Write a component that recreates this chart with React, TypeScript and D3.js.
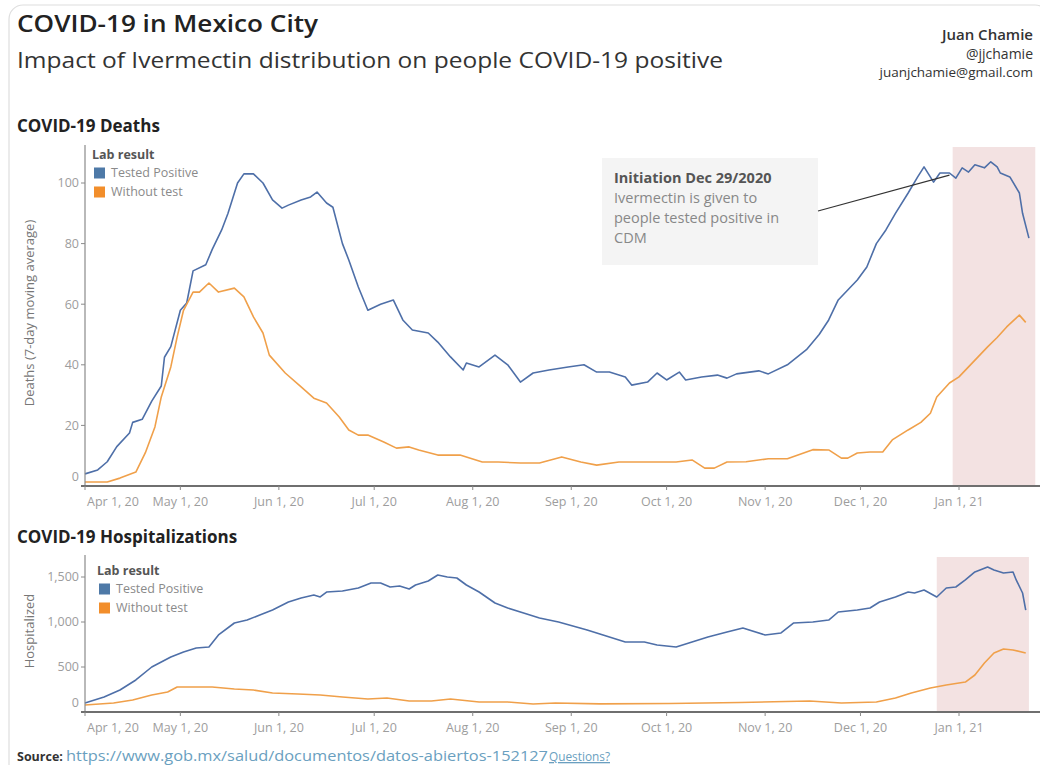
import React from "react";
import * as d3 from "d3";

// ---------- DATA ----------
const deathsPositive: [string, number][] = [
  ["2020-04-01", 4], ["2020-04-05", 5.3], ["2020-04-08", 8], ["2020-04-11", 13], ["2020-04-15", 17.5],
  ["2020-04-16", 21], ["2020-04-19", 22], ["2020-04-22", 28], ["2020-04-25", 33], ["2020-04-26", 42.5],
  ["2020-04-28", 46], ["2020-05-01", 58], ["2020-05-03", 60.4], ["2020-05-05", 71], ["2020-05-09", 73],
  ["2020-05-11", 78], ["2020-05-14", 84.5], ["2020-05-16", 90], ["2020-05-19", 100], ["2020-05-21", 103],
  ["2020-05-24", 103], ["2020-05-27", 100], ["2020-05-30", 94.4], ["2020-06-02", 91.7], ["2020-06-04", 92.7],
  ["2020-06-08", 94.4], ["2020-06-11", 95.4], ["2020-06-13", 97], ["2020-06-16", 93.4], ["2020-06-18", 92],
  ["2020-06-21", 80], ["2020-06-23", 74.6], ["2020-06-26", 65.7], ["2020-06-29", 58], ["2020-07-03", 60],
  ["2020-07-07", 61.4], ["2020-07-10", 54.8], ["2020-07-13", 51.5], ["2020-07-18", 50.5], ["2020-07-21", 47.5],
  ["2020-07-25", 42.6], ["2020-07-29", 38.3], ["2020-07-30", 40.6], ["2020-08-03", 39.3], ["2020-08-08", 43.2],
  ["2020-08-12", 40], ["2020-08-16", 34.3], ["2020-08-20", 37.3], ["2020-08-25", 38.3], ["2020-08-31", 39.3],
  ["2020-09-05", 40], ["2020-09-09", 37.6], ["2020-09-13", 37.6], ["2020-09-18", 36], ["2020-09-20", 33.3],
  ["2020-09-25", 34.3], ["2020-09-28", 37.3], ["2020-10-01", 35], ["2020-10-05", 37.6], ["2020-10-07", 35],
  ["2020-10-12", 36], ["2020-10-17", 36.6], ["2020-10-20", 35.6], ["2020-10-23", 37], ["2020-10-30", 38],
  ["2020-11-02", 37], ["2020-11-08", 40], ["2020-11-14", 45], ["2020-11-18", 50], ["2020-11-21", 54.8],
  ["2020-11-24", 61.4], ["2020-11-27", 64.7], ["2020-11-30", 68], ["2020-12-03", 72.3], ["2020-12-06", 80],
  ["2020-12-09", 84.5], ["2020-12-12", 90], ["2020-12-16", 96.7], ["2020-12-19", 102], ["2020-12-21", 105.3],
  ["2020-12-24", 100.3], ["2020-12-26", 103.3], ["2020-12-29", 103.3], ["2020-12-31", 101.6], ["2021-01-02", 105],
  ["2021-01-04", 103.6], ["2021-01-06", 106], ["2021-01-09", 105], ["2021-01-11", 107], ["2021-01-13", 105.3],
  ["2021-01-14", 103.3], ["2021-01-17", 102], ["2021-01-20", 96.7], ["2021-01-21", 90], ["2021-01-23", 81.8],
];

const deathsWithoutTest: [string, number][] = [
  ["2020-04-01", 1.3], ["2020-04-08", 1.3], ["2020-04-12", 2.6], ["2020-04-17", 4.6], ["2020-04-20", 11],
  ["2020-04-23", 19.5], ["2020-04-25", 29.4], ["2020-04-28", 39.3], ["2020-04-30", 49.2], ["2020-05-02", 58],
  ["2020-05-05", 64], ["2020-05-07", 64], ["2020-05-10", 67], ["2020-05-13", 64], ["2020-05-18", 65.3],
  ["2020-05-21", 62.4], ["2020-05-24", 55.8], ["2020-05-27", 50.5], ["2020-05-29", 43.2], ["2020-06-03", 37.3],
  ["2020-06-08", 32.7], ["2020-06-12", 29], ["2020-06-16", 27.4], ["2020-06-20", 22.8], ["2020-06-23", 18.5],
  ["2020-06-26", 16.8], ["2020-06-29", 16.8], ["2020-07-04", 14.5], ["2020-07-08", 12.5], ["2020-07-12", 12.9],
  ["2020-07-15", 11.9], ["2020-07-21", 10.2], ["2020-07-28", 10.2], ["2020-08-04", 7.9], ["2020-08-09", 7.9],
  ["2020-08-16", 7.6], ["2020-08-22", 7.6], ["2020-08-29", 9.6], ["2020-09-04", 7.9], ["2020-09-09", 6.9],
  ["2020-09-16", 7.9], ["2020-09-22", 7.9], ["2020-09-28", 7.9], ["2020-10-04", 7.9], ["2020-10-09", 8.6],
  ["2020-10-13", 5.9], ["2020-10-16", 5.9], ["2020-10-20", 7.9], ["2020-10-26", 8], ["2020-11-02", 9],
  ["2020-11-08", 9], ["2020-11-16", 12], ["2020-11-21", 11.9], ["2020-11-25", 9.2], ["2020-11-27", 9.2],
  ["2020-11-30", 10.9], ["2020-12-04", 11.2], ["2020-12-08", 11.2], ["2020-12-11", 15.2], ["2020-12-16", 18.5],
  ["2020-12-20", 21], ["2020-12-23", 24], ["2020-12-25", 29.4], ["2020-12-29", 34], ["2021-01-01", 36],
  ["2021-01-04", 39.3], ["2021-01-07", 42.6], ["2021-01-10", 45.9], ["2021-01-13", 49], ["2021-01-16", 52.5],
  ["2021-01-20", 56.4], ["2021-01-22", 54],
];

const hospPositive: [string, number][] = [
  ["2020-04-01", 100], ["2020-04-07", 167], ["2020-04-12", 244], ["2020-04-17", 356], ["2020-04-22", 500],
  ["2020-04-28", 611], ["2020-05-02", 667], ["2020-05-06", 711], ["2020-05-10", 722], ["2020-05-13", 856],
  ["2020-05-18", 989], ["2020-05-22", 1022], ["2020-05-26", 1078], ["2020-05-30", 1133], ["2020-06-04", 1222],
  ["2020-06-08", 1267], ["2020-06-12", 1300], ["2020-06-14", 1278], ["2020-06-16", 1333], ["2020-06-21", 1344],
  ["2020-06-26", 1378], ["2020-06-30", 1433], ["2020-07-03", 1433], ["2020-07-06", 1389], ["2020-07-09", 1400],
  ["2020-07-12", 1367], ["2020-07-14", 1411], ["2020-07-18", 1456], ["2020-07-21", 1522], ["2020-07-24", 1500],
  ["2020-07-27", 1489], ["2020-07-30", 1411], ["2020-08-03", 1333], ["2020-08-08", 1211], ["2020-08-12", 1156],
  ["2020-08-17", 1100], ["2020-08-22", 1044], ["2020-08-28", 1000], ["2020-09-06", 911], ["2020-09-13", 833],
  ["2020-09-18", 778], ["2020-09-24", 778], ["2020-09-28", 744], ["2020-10-04", 722], ["2020-10-09", 778],
  ["2020-10-14", 833], ["2020-10-20", 889], ["2020-10-25", 933], ["2020-11-01", 856], ["2020-11-06", 878],
  ["2020-11-10", 989], ["2020-11-16", 1000], ["2020-11-21", 1022], ["2020-11-24", 1111], ["2020-11-30", 1133],
  ["2020-12-04", 1156], ["2020-12-07", 1222], ["2020-12-12", 1278], ["2020-12-16", 1333], ["2020-12-18", 1322],
  ["2020-12-21", 1356], ["2020-12-25", 1278], ["2020-12-28", 1378], ["2020-12-31", 1389], ["2021-01-03", 1467],
  ["2021-01-06", 1556], ["2021-01-10", 1611], ["2021-01-12", 1578], ["2021-01-15", 1544], ["2021-01-18", 1556],
  ["2021-01-19", 1467], ["2021-01-21", 1322], ["2021-01-22", 1133],
];

const hospWithoutTest: [string, number][] = [
  ["2020-04-01", 78], ["2020-04-10", 100], ["2020-04-16", 133], ["2020-04-22", 189], ["2020-04-27", 222],
  ["2020-04-30", 278], ["2020-05-05", 278], ["2020-05-11", 278], ["2020-05-18", 256], ["2020-05-24", 244],
  ["2020-05-30", 211], ["2020-06-07", 200], ["2020-06-14", 189], ["2020-06-21", 167], ["2020-06-29", 144],
  ["2020-07-05", 156], ["2020-07-12", 122], ["2020-07-19", 122], ["2020-07-25", 144], ["2020-08-03", 111],
  ["2020-08-12", 111], ["2020-08-20", 89], ["2020-08-27", 100], ["2020-09-10", 90], ["2020-10-02", 95],
  ["2020-10-24", 105], ["2020-11-15", 122], ["2020-11-25", 100], ["2020-12-06", 111], ["2020-12-12", 156],
  ["2020-12-17", 211], ["2020-12-23", 267], ["2020-12-28", 300], ["2021-01-03", 333], ["2021-01-06", 411],
  ["2021-01-09", 544], ["2021-01-12", 656], ["2021-01-15", 700], ["2021-01-18", 689], ["2021-01-22", 656],
];

const xTickDates = [
  "2020-04-01", "2020-05-01", "2020-06-01", "2020-07-01", "2020-08-01", "2020-09-01",
  "2020-10-01", "2020-11-01", "2020-12-01", "2021-01-01",
];
const deathTicks = [0, 20, 40, 60, 80, 100];
const hospTicks = [0, 500, 1000, 1500];
const seriesNames = ["Tested Positive", "Without test"];
const shadeDeaths = ["2020-12-30", "2021-01-25"];
const shadeHosp = ["2020-12-25", "2021-01-23"];
const annotation = { date: "2020-12-29", value: 102.6 };
const annotationLines = [
  "Ivermectin is given to",
  "people tested positive in",
  "CDM",
];

// ---------- STYLE ----------
const FONT = "'Open Sans', 'Noto Sans', sans-serif";
const BLUE = "#4e6fa8";
const ORANGE = "#f0a04a";
const BLUE_SQ = "#4e79a7";
const ORANGE_SQ = "#f28e2b";
const SHADE = "#f3e2e2";
const AXIS = "#8a8a8a";
const TICKTXT = "#9d9d9d";

const parse = d3.timeParse("%Y-%m-%d");
const fmt = d3.timeFormat("%b %-d, %y");

type Pt = [string, number];

function Panel(props: {
  y: d3.ScaleLinear<number, number>;
  x: d3.ScaleTime<number, number>;
  top: number;
  bottom: number;
  ticks: number[];
  tickFmt: (v: number) => string;
  series: Pt[][];
  shade: string[];
  legendX: number;
  legendY: number;
  legendFont: number;
  yTitle: string;
  yTitleY: number;
  tickFont: number;
}) {
  const { x, y, top, bottom, ticks, tickFmt, series, shade, legendX, legendY, legendFont } = props;
  const left = 85;
  const right = 1040;
  const line = d3
    .line<Pt>()
    .x((d) => x(parse(d[0])!))
    .y((d) => y(d[1]));
  const colors = [BLUE, ORANGE];
  const sq = [BLUE_SQ, ORANGE_SQ];
  const sx0 = x(parse(shade[0])!);
  const sx1 = x(parse(shade[1])!);
  const sqSize = 11;
  return (
    <g>
      <rect x={sx0} y={top} width={sx1 - sx0} height={bottom - top} fill={SHADE} />
      {series.map((s, i) => (
        <path key={i} d={line(s) || ""} fill="none" stroke={colors[i]} strokeWidth={1.6} strokeLinejoin="round" />
      ))}
      {/* y axis */}
      <line x1={left} x2={left} y1={top - 2} y2={bottom} stroke={AXIS} strokeWidth={1.2} />
      {ticks.map((t) => (
        <g key={t}>
          <line x1={left - 4} x2={left} y1={y(t)} y2={y(t)} stroke={AXIS} strokeWidth={1} />
          <text
            x={left - 6}
            y={y(t) - (t === 0 ? 9 : 0)}
            dy="0.35em"
            textAnchor="end"
            fontSize={props.tickFont}
            fill={TICKTXT}
            fontFamily={FONT}
          >
            {tickFmt(t)}
          </text>
        </g>
      ))}
      {/* x axis */}
      <line x1={left - 4} x2={right} y1={bottom} y2={bottom} stroke="#6f6f6f" strokeWidth={1.8} />
      {xTickDates.map((d, i) => {
        const px = x(parse(d)!);
        return (
          <g key={d}>
            <line x1={px} x2={px} y1={bottom} y2={bottom + 4} stroke={AXIS} strokeWidth={1} />
            <text
              x={i === 0 ? px + 2 : px}
              y={bottom + 20}
              textAnchor={i === 0 ? "start" : "middle"}
              fontSize={12.5}
              fill={TICKTXT}
              fontFamily={FONT}
            >
              {fmt(parse(d)!)}
            </text>
          </g>
        );
      })}
      {/* y title */}
      <text
        transform={`translate(34,${props.yTitleY}) rotate(-90)`}
        textAnchor="middle"
        fontSize={13}
        fill="#777"
        fontFamily={FONT}
      >
        {props.yTitle}
      </text>
      {/* legend */}
      <text x={legendX} y={legendY} dy="0.35em" fontSize={legendFont} fontWeight={700} fill="#555" fontFamily={FONT}>
        Lab result
      </text>
      {seriesNames.map((n, i) => {
        const cy = legendY + 18 + i * 19;
        return (
          <g key={n}>
            <rect x={legendX + 2} y={cy - sqSize / 2} width={sqSize} height={sqSize} fill={sq[i]} />
            <text
              x={legendX + 19}
              y={cy}
              dy="0.35em"
              fontSize={legendFont}
              fill="#8a8a8a"
              fontFamily={FONT}
            >
              {n}
            </text>
          </g>
        );
      })}
    </g>
  );
}

export default function App() {
  const x = d3
    .scaleTime()
    .domain([parse("2020-04-01")!, parse("2021-01-01")!])
    .range([85, 959]);
  const yTop = d3.scaleLinear().domain([0, 100]).range([486, 183]);
  const yBot = d3.scaleLinear().domain([0, 1500]).range([712, 577]);
  const commaFmt = d3.format(",");

  const ax = x(parse(annotation.date)!);
  const ay = yTop(annotation.value);

  return (
    <svg
      width={1040}
      height={765}
      style={{ position: "absolute", left: 0, top: 0, background: "#fff" }}
      fontFamily={FONT}
    >
      <rect x={9} y={5} width={1040} height={780} rx={14} fill="#fff" stroke="#dedede" strokeWidth={1.2} />

      {/* titles */}
      <text x={17} y={32} fontSize={23} fontWeight={600} fill="#222" textLength={301} lengthAdjust="spacingAndGlyphs">
        COVID-19 in Mexico City
      </text>
      <text x={17} y={68} fontSize={22} fill="#333" textLength={706} lengthAdjust="spacingAndGlyphs">
        Impact of Ivermectin distribution on people COVID-19 positive
      </text>
      <text x={1033} y={40} fontSize={15} fontWeight={600} fill="#333" textAnchor="end">
        Juan Chamie
      </text>
      <text x={1033} y={59} fontSize={14} fill="#333" textAnchor="end">
        @jjchamie
      </text>
      <text x={1033} y={77} fontSize={13.5} fill="#333" textAnchor="end">
        juanjchamie@gmail.com
      </text>

      <text x={17} y={132} fontSize={17} fontWeight={700} fill="#222">
        COVID-19 Deaths
      </text>
      <text x={17} y={543} fontSize={17} fontWeight={700} fill="#222">
        COVID-19 Hospitalizations
      </text>

      <Panel
        x={x}
        y={yTop}
        top={147}
        bottom={486}
        ticks={deathTicks}
        tickFmt={(v) => String(v)}
        series={[deathsPositive, deathsWithoutTest]}
        shade={shadeDeaths}
        legendX={92}
        legendY={155}
        legendFont={12.5}
        yTitle="Deaths (7-day moving average)"
        yTitleY={313}
        tickFont={12.5}
      />
      <Panel
        x={x}
        y={yBot}
        top={557}
        bottom={712}
        ticks={hospTicks}
        tickFmt={(v) => commaFmt(v)}
        series={[hospPositive, hospWithoutTest]}
        shade={shadeHosp}
        legendX={97}
        legendY={571}
        legendFont={12.5}
        yTitle="Hospitalized"
        yTitleY={631}
        tickFont={12.5}
      />

      {/* annotation */}
      <rect x={602} y={158} width={216} height={107} fill="#f4f4f4" />
      <line x1={818} y1={211} x2={ax} y2={ay} stroke="#333" strokeWidth={1.1} />
      <text x={614} y={183} fontSize={14.5} fontWeight={700} fill="#555">
        Initiation Dec 29/2020
      </text>
      {annotationLines.map((l, i) => (
        <text key={i} x={614} y={203 + i * 20} fontSize={14.5} fill="#888">
          {l}
        </text>
      ))}

      {/* source */}
      <text x={17} y={761} fontSize={12.5} fontWeight={700} fill="#333">
        Source:
      </text>
      <text x={66} y={761} fontSize={14} fill="#6a9fc0" textLength={482} lengthAdjust="spacingAndGlyphs">
        https://www.gob.mx/salud/documentos/datos-abiertos-152127
      </text>
      <text x={549} y={761} fontSize={13} fill="#6a9fc0" textDecoration="underline" textLength={61} lengthAdjust="spacingAndGlyphs">
        Questions?
      </text>
    </svg>
  );
}
